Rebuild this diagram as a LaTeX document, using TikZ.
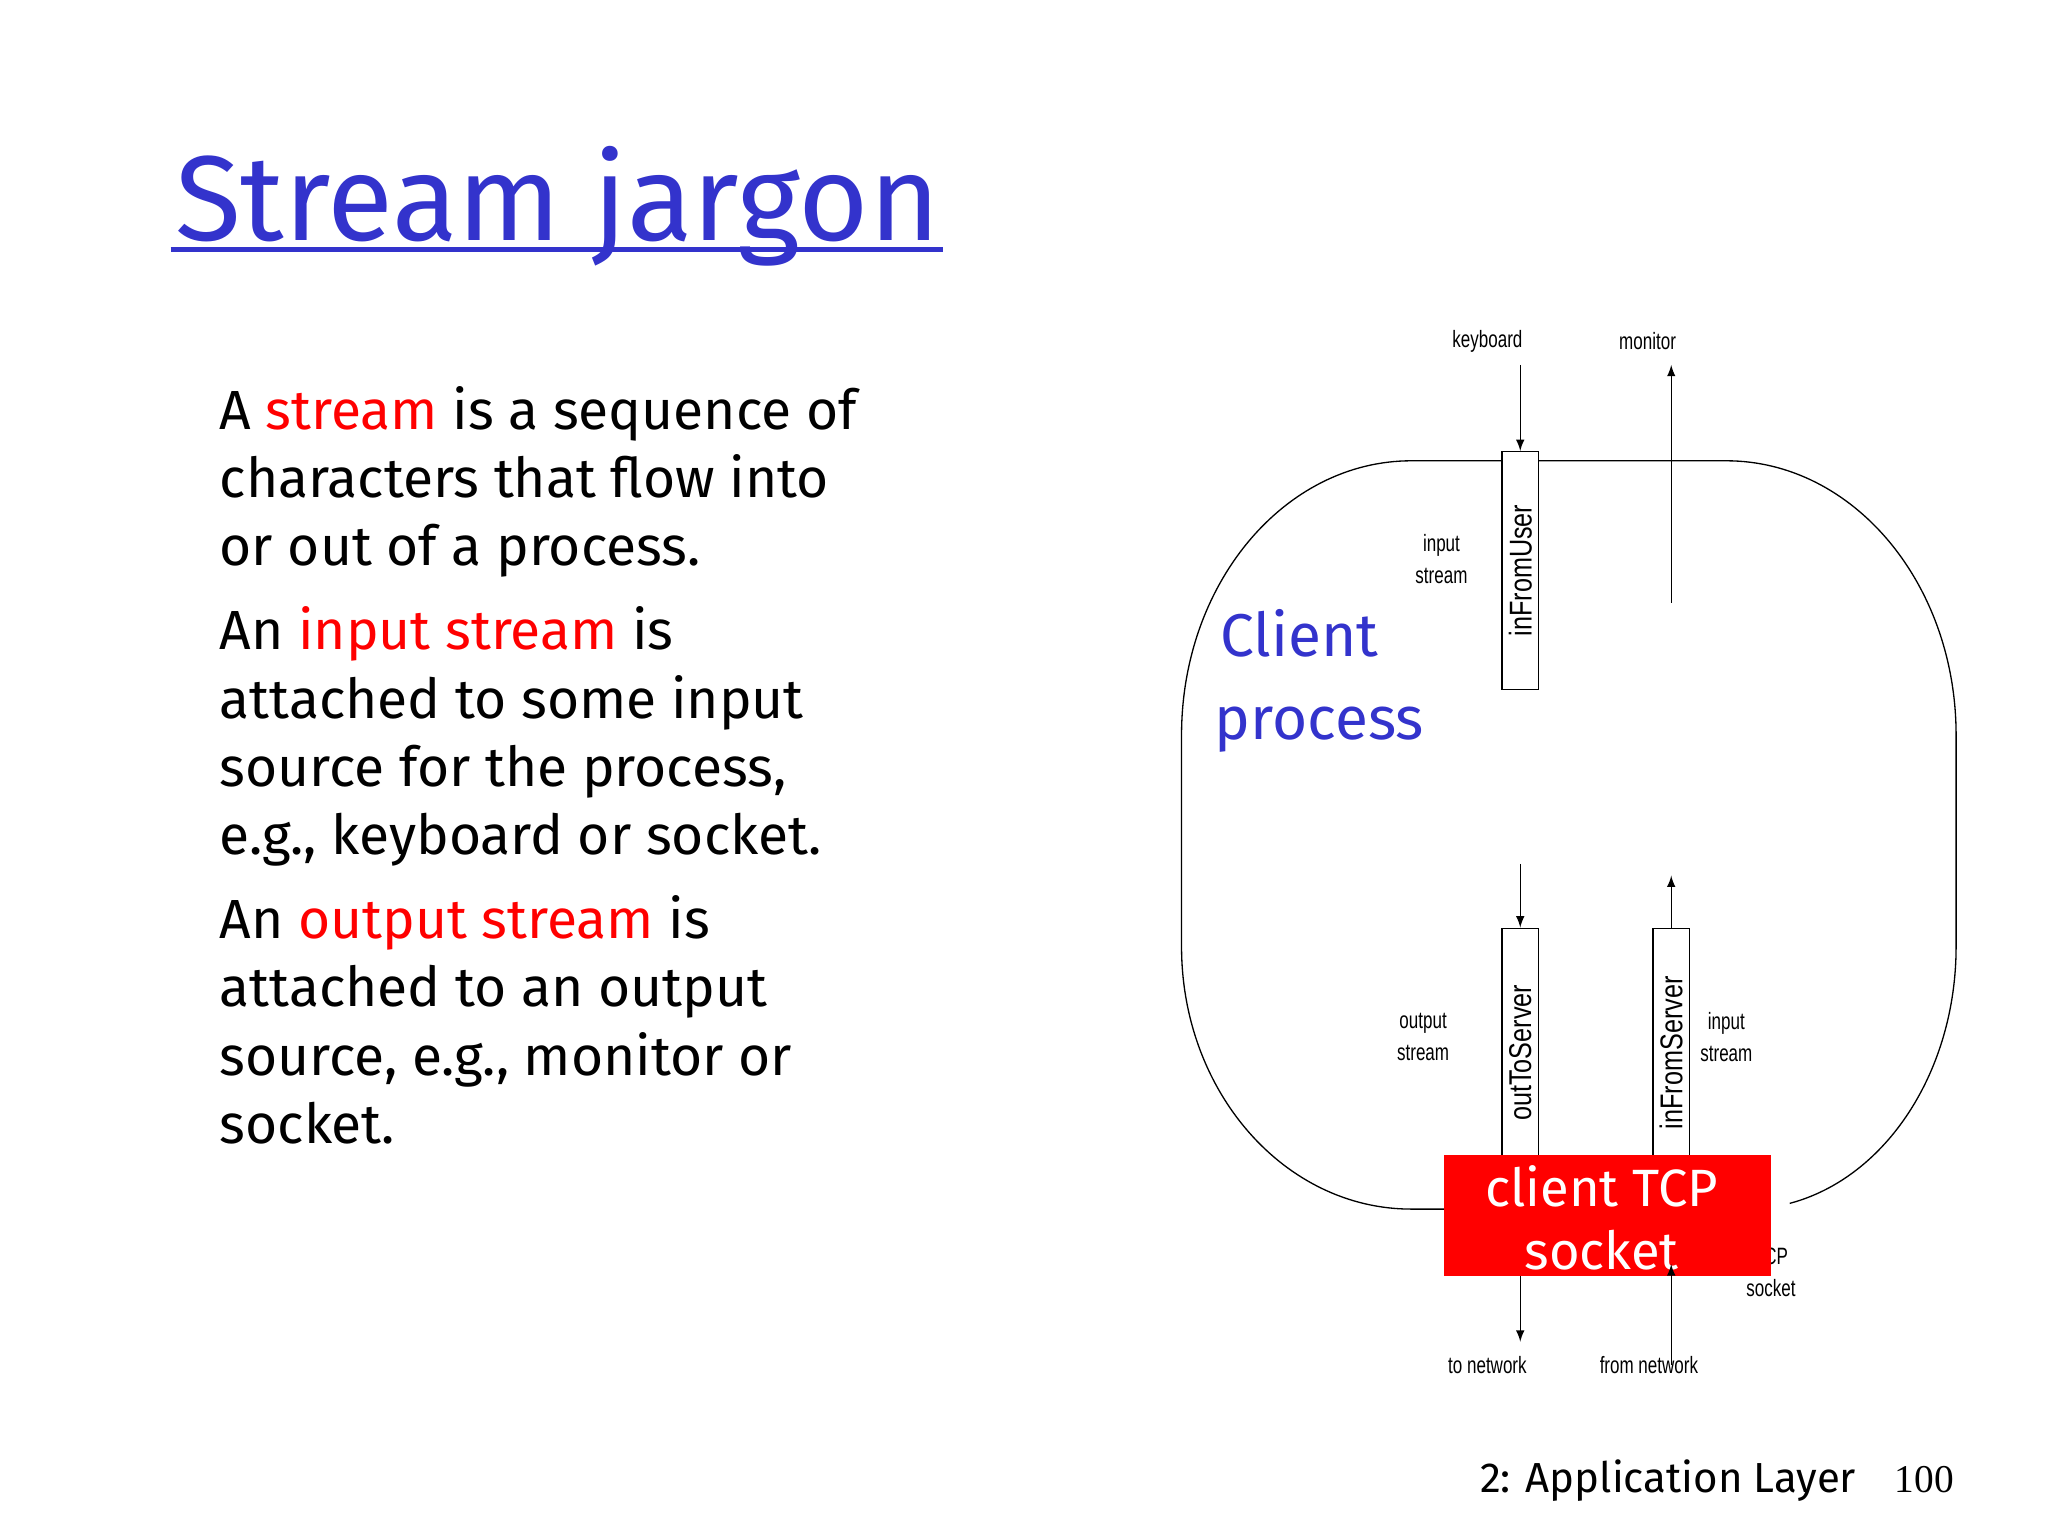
\documentclass[tikz,border=0pt]{standalone}
\usepackage{fontspec}
\setmainfont{Fira Sans}
\newfontfamily\smallfont{Liberation Sans}
\newfontfamily\numfont{Liberation Serif}
\definecolor{tblue}{RGB}{51,51,204}
\definecolor{tred}{RGB}{255,0,0}
\begin{document}
\begin{tikzpicture}[x=0.5pt,y=-0.5pt,
  body/.style={anchor=base west,inner sep=0pt,font=\fontsize{21}{25}\selectfont},
  lbl/.style={inner sep=0pt,font=\smallfont\fontsize{9}{10}\selectfont,xscale=0.72,align=center},
  sbox/.style={draw,fill=white,line width=0.5pt,minimum width=14pt,inner sep=0pt},
  rot/.style={rotate=90,inner sep=0pt,font=\smallfont\fontsize{12}{12}\selectfont},
  arr/.style={-latex,line width=0.5pt}]
\path[use as bounding box,fill=white] (0,0) rectangle (1560,1170);
% title
\node[anchor=base west,inner sep=0pt,text=tblue,font=\fontsize{46}{50}\selectfont] (title) at (133,183) {Stream jargon};
\draw[tblue,line width=2pt] (130,190) -- (718,190);
% body
\node[body] (l1) at (167,327) {A \textcolor{tred}{stream} is a sequence of};
\node[body] (l2) at (167,379) {characters that flow into};
\node[body] (l3) at (167,431) {or out of a process.};
\node[body] (l4) at (167,495) {An \textcolor{tred}{input stream} is};
\node[body] (l5) at (167,547) {attached to some input};
\node[body] (l6) at (167,599) {source for the process,};
\node[body] (l7) at (167,651) {e.g., keyboard or socket.};
\node[body] (l8) at (167,715) {An \textcolor{tred}{output stream} is};
\node[body] (l9) at (167,767) {attached to an output};
\node[body] (l10) at (167,819) {source, e.g., monitor or};
\node[body] (l11) at (167,871) {socket.};
% process outline
\draw[line width=0.5pt] (1100,921) -- (1075,921) arc[start angle=90,end angle=180,x radius=175,y radius=200]
  -- (900,560) arc[start angle=180,end angle=270,x radius=175,y radius=209] -- (1315,351)
  arc[start angle=270,end angle=360,x radius=175,y radius=209] -- (1490,721)
  arc[start angle=0,end angle=78,x radius=160,y radius=200];
% client label
\node[anchor=base west,inner sep=2pt,fill=white,text=tblue,font=\fontsize{23}{26}\selectfont,align=left] (cl) at (925,500) {Client};
\node[anchor=base west,inner sep=0pt,text=tblue,font=\fontsize{23}{26}\selectfont] (pr) at (925,563) {process};
% labels
\node[lbl] (kb) at (1133,260) {keyboard};
\node[lbl] (mon) at (1255,260) {monitor};
\node[lbl] (is1) at (1098,426) {input\\[2pt]stream};
\node[lbl] (os) at (1084,790) {output\\[2pt]stream};
\node[lbl] (is2) at (1315,790) {input\\[2pt]stream};
\node[lbl] (tcps) at (1349,969) {TCP\\[2pt]socket};
\node[lbl] (tonet) at (1133,1040) {to network};
\node[lbl] (fromnet) at (1256,1040) {from network};
% boxes
\node[sbox,minimum height=90.5pt] (ifu) at (1158,434.5) {};
\node[rot] at (ifu) {\scalebox{0.8}[1]{inFromUser}};
\node[sbox,minimum height=95pt] (ots) at (1158,802) {};
\node[rot] at (ots) {\scalebox{0.8}[1]{outToServer}};
\node[sbox,minimum height=95pt] (ifs) at (1273,802) {};
\node[rot] at (ifs) {\scalebox{0.8}[1]{inFromServer}};
% socket
\node[fill=tred,minimum width=124.5pt,minimum height=46pt,inner sep=0pt] (sock) at (1224.5,926) {};
\node[text=white,font=\fontsize{20}{24}\selectfont,align=center,inner sep=0pt] (socktxt) at (1220,928) {client TCP\\socket};
% arrows
\coordinate (kbs) at (1158,278);
\coordinate (mone) at (1273,278);
\coordinate (mons) at (1273,459);
\coordinate (otsin) at (1158,658);
\coordinate (ifsout) at (1273,667);
\coordinate (tne) at (1158,1022);
\coordinate (fns) at (1273,1040);
\draw[arr] (kbs) -- (ifu.north);
\draw[arr] (mons) -- (mone);
\draw[arr] (otsin) -- (ots.north);
\draw[arr] (ifs.north) -- (ifsout);
\draw[arr] (1158,972) -- (tne);
\draw[arr] (fns) -- (1273,963);
% footer
\node[anchor=base west,inner sep=0pt,font=\fontsize{16}{18}\selectfont] (foot) at (1127,1137) {2: Application Layer};
\node[anchor=base west,inner sep=0pt,font=\numfont\fontsize{15}{18}\selectfont] (pg) at (1443,1137) {100};
\end{tikzpicture}
\end{document}
